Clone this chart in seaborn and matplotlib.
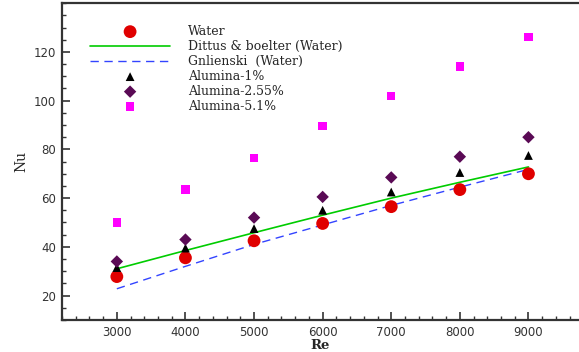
import numpy as np
import pandas as pd
import matplotlib
matplotlib.use("Agg")
import matplotlib.pyplot as plt
import seaborn as sns
from matplotlib.ticker import MultipleLocator

re = [3000, 4000, 5000, 6000, 7000, 8000, 9000]
water = [27.8, 35.5, 42.5, 49.6, 56.5, 63.5, 70.0]
dittus = [31.0, 38.5, 45.8, 53.0, 60.0, 66.5, 72.8]
gnielinski = [22.8, 32.0, 41.0, 49.0, 57.0, 64.5, 71.8]
alumina_1 = [31.5, 39.5, 47.5, 55.0, 62.5, 70.5, 77.5]
alumina_255 = [34.0, 43.0, 52.0, 60.5, 68.5, 77.0, 85.0]
alumina_51 = [50.0, 63.5, 76.5, 89.5, 102.0, 114.0, 126.0]

sns.set_style("ticks")
plt.rcParams["font.family"] = ["DejaVu Sans"]

fig = plt.figure(figsize=(5.79, 3.52), dpi=100)
ax = fig.add_axes([0.107, 0.091, 0.891, 0.9])

sns.scatterplot(x=re, y=water, ax=ax, marker="o", s=85, color="#e00000",
                edgecolor="none", label="Water", zorder=3)
sns.lineplot(x=re, y=dittus, ax=ax, color="#00cc00", lw=1.2,
             label="Dittus & boelter (Water)")
sns.lineplot(x=re, y=gnielinski, ax=ax, color="#3344ff", lw=1.0,
             label="Gnlienski  (Water)")
ax.lines[-1].set_linestyle((0, (6, 4)))
sns.scatterplot(x=re, y=alumina_1, ax=ax, marker="^", s=40, color="black",
                edgecolor="none", label="Alumina-1%", zorder=3)
sns.scatterplot(x=re, y=alumina_255, ax=ax, marker="D", s=40, color="#5a0a55",
                edgecolor="none", label="Alumina-2.55%", zorder=3)
sns.scatterplot(x=re, y=alumina_51, ax=ax, marker="s", s=36, color="#ff00ff",
                edgecolor="none", label="Alumina-5.1%", zorder=3)

ax.set_xlim(2200, 9720)
ax.set_ylim(10, 140)
ax.xaxis.set_major_locator(MultipleLocator(1000))
ax.xaxis.set_minor_locator(MultipleLocator(200))
ax.set_yticks([20, 40, 60, 80, 100, 120])
ax.yaxis.set_minor_locator(MultipleLocator(5))

ax.tick_params(which="both", direction="in", colors="#333333", labelcolor="#333333",
               labelsize=8.5, top=False, right=False)
ax.tick_params(which="major", length=6, width=1.2, pad=4)
ax.tick_params(which="minor", length=3, width=1.0)
for side in ["left", "bottom", "top"]:
    ax.spines[side].set_visible(True)
    ax.spines[side].set_color("#333333")
    ax.spines[side].set_linewidth(1.6)
ax.spines["right"].set_visible(False)

ax.set_xlabel("Re", family=["DejaVu Serif"], fontweight="bold", fontsize=9.5, labelpad=0)
ax.set_ylabel("Nu", family=["DejaVu Serif"], fontsize=10, labelpad=4)

leg = ax.legend(loc="upper left", bbox_to_anchor=(0.04, 0.955), frameon=False,
                prop={"family": "DejaVu Serif", "size": 9},
                handlelength=6.4, handletextpad=1.4, labelspacing=0.16,
                borderaxespad=0.2)

fig.savefig("out.png", dpi=100)
